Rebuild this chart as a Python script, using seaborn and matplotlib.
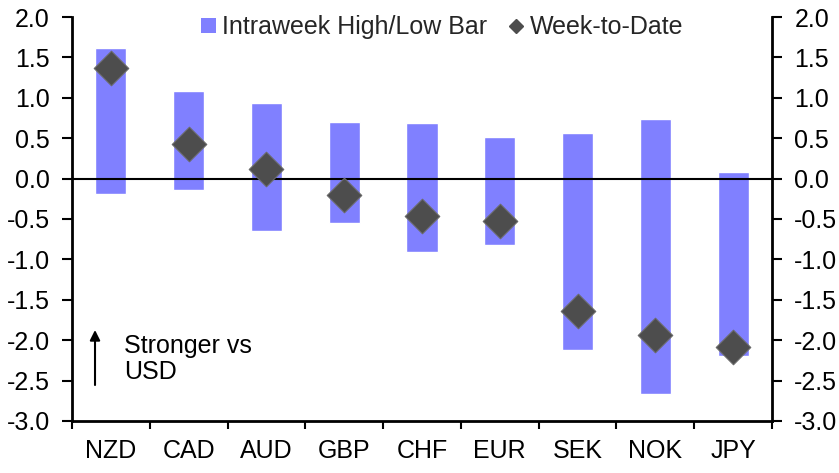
import matplotlib
matplotlib.use("Agg")
import matplotlib.pyplot as plt
import seaborn as sns
import pandas as pd
import numpy as np
from matplotlib.patches import Patch
from matplotlib.lines import Line2D

currencies = ["NZD", "CAD", "AUD", "GBP", "CHF", "EUR", "SEK", "NOK", "JPY"]
week_high = [1.62, 1.09, 0.94, 0.70, 0.69, 0.51, 0.56, 0.74, 0.085]
week_low = [-0.19, -0.145, -0.65, -0.55, -0.91, -0.825, -2.125, -2.66, -2.195]
week_to_date = [1.37, 0.43, 0.115, -0.20, -0.46, -0.525, -1.64, -1.935, -2.09]
y_ticks = [2.0, 1.5, 1.0, 0.5, 0.0, -0.5, -1.0, -1.5, -2.0, -2.5, -3.0]

sns.set_theme(style="white")
plt.rcParams["font.family"] = ["Liberation Sans", "DejaVu Sans"]
plt.rcParams["axes.unicode_minus"] = False

df = pd.DataFrame({
    "currency": currencies,
    "low": week_low,
    "high": week_high,
    "wtd": week_to_date,
})
df["range"] = df["high"] - df["low"]

FS = 18

fig = plt.figure(figsize=(8.39, 4.73), dpi=100)
ax = fig.add_axes([0.0858, 0.110, 0.8344, 0.854])

bar_color = "#8080FF"
dia_color = "#4D4D4D"

sns.barplot(data=df, x="currency", y="range", bottom=df["low"].values,
            color=bar_color, saturation=1, width=0.4, ax=ax, zorder=2)

ax.axhline(0, color="black", lw=1.5, zorder=3)

sns.scatterplot(data=df, x="currency", y="wtd", marker="D", s=310,
                color=dia_color, edgecolor="#6a6a6a", linewidth=0.8,
                ax=ax, zorder=4, legend=False)

ax.set_ylim(-3.0, 2.0)
ax.set_xlim(-0.5, len(currencies) - 0.5)
ax.set_yticks(y_ticks)
ax.set_yticklabels([f"{v:.1f}" for v in y_ticks])
ax.set_xlabel("")
ax.set_ylabel("")

# x ticks: marks at category boundaries, labels at centres
ax.set_xticks(np.arange(-0.5, len(currencies) + 0.5, 1.0))
ax.set_xticklabels([])
ax.set_xticks(np.arange(len(currencies)), minor=True)
ax.set_xticklabels(currencies, minor=True)
ax.tick_params(axis="x", which="major", direction="out", length=6, width=1.5,
               color="black", bottom=True)
ax.tick_params(axis="x", which="minor", length=0, labelsize=FS, pad=13,
               labelcolor="black")
ax.tick_params(axis="y", which="major", direction="out", length=7, width=1.5,
               color="black", left=True, right=True, labelleft=True,
               labelright=True, labelsize=FS, labelcolor="black", pad=9)

for side in ["left", "right", "bottom"]:
    ax.spines[side].set_visible(True)
    ax.spines[side].set_color("black")
    ax.spines[side].set_linewidth(2)
ax.spines["top"].set_visible(False)
ax.grid(False)

# annotation
ax.annotate("", xy=(-0.204, -1.874), xytext=(-0.204, -2.555),
            arrowprops=dict(arrowstyle="-|>", color="black", lw=1.5,
                            mutation_scale=15, shrinkA=0, shrinkB=0))
ax.text(0.17, -2.23, "Stronger vs\nUSD", fontsize=FS, va="center", ha="left",
        color="black", linespacing=1.1)

handles = [
    Patch(facecolor=bar_color, edgecolor="none", label="Intraweek High/Low Bar"),
    Line2D([0], [0], marker="D", color="none", markerfacecolor=dia_color,
           markeredgecolor=dia_color, markersize=7, label="Week-to-Date"),
]
ax.legend(handles=handles, loc="upper center", bbox_to_anchor=(0.529, 1.06),
          ncol=2, frameon=False, fontsize=FS, handlelength=0.6,
          handleheight=0.6, handletextpad=0.25, columnspacing=0.85)

fig.savefig("out.png", dpi=100)
